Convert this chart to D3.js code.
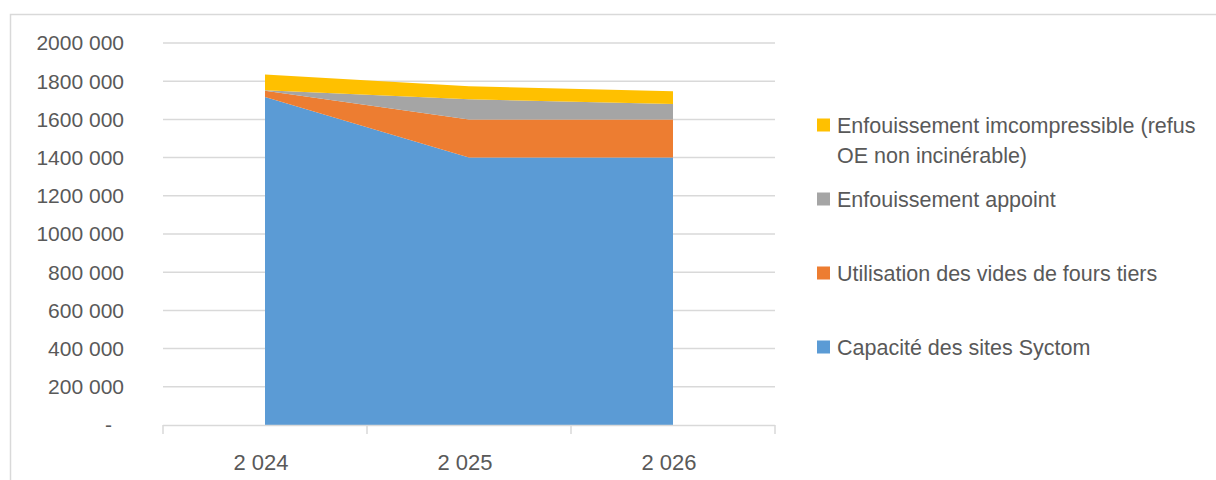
<!DOCTYPE html>
<html>
<head>
<meta charset="utf-8">
<script src="https://cdn.jsdelivr.net/npm/d3@7"></script>
<style>
  body { margin: 0; background: #fff; }
  text { font-family: "Liberation Sans", Arial, sans-serif; fill: #595959; }
</style>
</head>
<body>
<div class="canvas"></div>
<script>
// data
const years = ['2 024', '2 025', '2 026'];
const capaciteSyctom = [1717000, 1400000, 1400000];
const videsFoursTiers = [33000, 200000, 200000];
const enfouissementAppoint = [3000, 105000, 80000];
const enfouissementIncompressible = [82000, 68000, 67000];
const yTicks = [0, 200000, 400000, 600000, 800000, 1000000, 1200000, 1400000, 1600000, 1800000, 2000000];

const seriesNames = [
  'Capacité des sites Syctom',
  'Utilisation des vides de fours tiers',
  'Enfouissement appoint',
  'Enfouissement imcompressible (refus OE non incinérable)'
];
const seriesValues = [capaciteSyctom, videsFoursTiers, enfouissementAppoint, enfouissementIncompressible];
const colors = ['#5B9BD5', '#ED7D31', '#A5A5A5', '#FFC000'];

const dims = { width: 1216, height: 480 };
const plot = { left: 163, right: 775, top: 43, bottom: 425 };

const svg = d3.select('.canvas')
  .append('svg')
  .attr('width', dims.width)
  .attr('height', dims.height);

// chart frame
svg.append('rect')
  .attr('x', 10.5).attr('y', 14.5)
  .attr('width', 1230).attr('height', 500)
  .attr('fill', 'none')
  .attr('stroke', '#D9D9D9')
  .attr('stroke-width', 1.5);

// table for the stack
const table = years.map((y, i) => {
  const row = { year: y };
  seriesNames.forEach((n, k) => { row[n] = seriesValues[k][i]; });
  return row;
});

const x = d3.scaleBand().domain(years).range([plot.left, plot.right]);
const y = d3.scaleLinear().domain([0, 2000000]).range([plot.bottom, plot.top]);

// gridlines
svg.append('g')
  .selectAll('line')
  .data(yTicks.slice(1))
  .enter()
  .append('line')
  .attr('x1', plot.left).attr('x2', plot.right)
  .attr('y1', d => y(d)).attr('y2', d => y(d))
  .attr('stroke', '#D9D9D9')
  .attr('stroke-width', 1.5);

// y labels
const fmt = d => {
  if (d === 0) return '-';
  const s = String(d);
  return s.slice(0, s.length - 3) + ' ' + s.slice(-3);
};
svg.append('g')
  .selectAll('text')
  .data(yTicks)
  .enter()
  .append('text')
  .attr('x', d => d === 0 ? 112 : 124)
  .attr('y', d => y(d))
  .attr('dy', '0.35em')
  .attr('text-anchor', 'end')
  .style('font-size', '21px')
  .text(fmt);

// stacked areas
const stack = d3.stack().keys(seriesNames);
const layers = stack(table);

const area = d3.area()
  .x(d => x(d.data.year) + x.bandwidth() / 2)
  .y0(d => y(d[0]))
  .y1(d => y(d[1]));

svg.append('g')
  .selectAll('path')
  .data(layers)
  .enter()
  .append('path')
  .attr('d', area)
  .attr('fill', (d, i) => colors[i]);

// x axis
const xAxis = svg.append('g');
xAxis.append('line')
  .attr('x1', plot.left).attr('x2', plot.right)
  .attr('y1', plot.bottom + 0.5).attr('y2', plot.bottom + 0.5)
  .attr('stroke', '#D9D9D9')
  .attr('stroke-width', 1.5);

const bounds = years.map(d => x(d)).concat([plot.right]);
xAxis.selectAll('.tick')
  .data(bounds)
  .enter()
  .append('line')
  .attr('x1', d => d).attr('x2', d => d)
  .attr('y1', plot.bottom).attr('y2', plot.bottom + 9)
  .attr('stroke', '#D9D9D9')
  .attr('stroke-width', 1.5);

xAxis.selectAll('text')
  .data(years)
  .enter()
  .append('text')
  .attr('x', d => x(d) + x.bandwidth() / 2 - 4)
  .attr('y', 462)
  .attr('dy', '0.35em')
  .attr('text-anchor', 'middle')
  .style('font-size', '22px')
  .text(d => d);

// legend (top to bottom: reversed series order)
const legendItems = [
  { idx: 3, lines: ['Enfouissement imcompressible (refus', 'OE non incinérable)'], cy: 125 },
  { idx: 2, lines: ['Enfouissement appoint'], cy: 199 },
  { idx: 1, lines: ['Utilisation des vides de fours tiers'], cy: 273 },
  { idx: 0, lines: ['Capacité des sites Syctom'], cy: 347 }
];

const legend = svg.append('g');
const item = legend.selectAll('g')
  .data(legendItems)
  .enter()
  .append('g');

item.append('rect')
  .attr('x', 817)
  .attr('y', d => d.cy - 6.5)
  .attr('width', 13).attr('height', 13)
  .attr('fill', d => colors[d.idx]);

item.append('text')
  .attr('x', 837)
  .attr('y', d => d.cy)
  .style('font-size', '21.5px')
  .selectAll('tspan')
  .data(d => d.lines)
  .enter()
  .append('tspan')
  .attr('x', 837)
  .attr('dy', (d, i) => i === 0 ? '0.35em' : '30px')
  .text(d => d);
</script>
</body>
</html>
